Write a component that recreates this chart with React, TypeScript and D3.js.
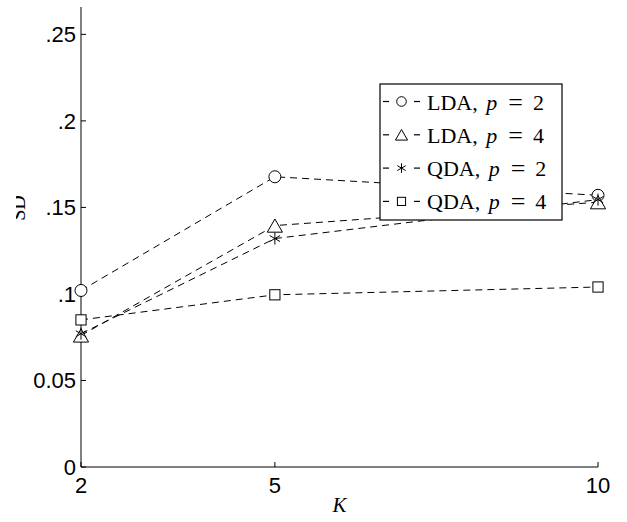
import React, { useEffect, useRef } from 'react';
import * as d3 from 'd3';

// K values on the x axis
const kValues = [2, 5, 10];

// SD per series
const ldaP2 = [0.102, 0.1677, 0.157];
const ldaP4 = [0.076, 0.1395, 0.153];
const qdaP2 = [0.077, 0.132, 0.1545];
const qdaP4 = [0.085, 0.0995, 0.104];

const seriesNames = ['LDA', 'LDA', 'QDA', 'QDA'];
const seriesP = ['2', '4', '2', '4'];
const seriesMarkers = ['circle', 'triangle', 'star', 'square'];

const yTicks = [0, 0.05, 0.1, 0.15, 0.2, 0.25];
const yTickLabels = ['0', '0.05', '.1', '.15', '.2', '.25'];
const xTickLabels = ['2', '5', '10'];

const drawMarker = (g, type, x, y, s) => {
  if (type === 'circle') {
    g.append('circle').attr('cx', x).attr('cy', y).attr('r', s)
      .attr('fill', 'white').attr('stroke', 'black').attr('stroke-width', 1);
  } else if (type === 'square') {
    g.append('rect').attr('x', x - s * 0.85).attr('y', y - s * 0.85)
      .attr('width', s * 1.7).attr('height', s * 1.7)
      .attr('fill', 'white').attr('stroke', 'black').attr('stroke-width', 1);
  } else if (type === 'triangle') {
    const h = s * 1.1;
    g.append('path')
      .attr('d', `M${x},${y - h}L${x + h * 1.15},${y + h}L${x - h * 1.15},${y + h}Z`)
      .attr('fill', 'white').attr('stroke', 'black').attr('stroke-width', 1);
  } else {
    // asterisk
    const r = s;
    [90, 30, -30].forEach(a => {
      const rad = (a * Math.PI) / 180;
      g.append('line')
        .attr('x1', x - r * Math.cos(rad)).attr('y1', y - r * Math.sin(rad))
        .attr('x2', x + r * Math.cos(rad)).attr('y2', y + r * Math.sin(rad))
        .attr('stroke', 'black').attr('stroke-width', 1);
    });
  }
};

const App = () => {
  const svgRef = useRef(null);

  useEffect(() => {
    const width = 627;
    const height = 522;
    const margin = { top: 7, right: 29, bottom: 55, left: 81 };

    const svg = d3.select(svgRef.current);
    svg.selectAll('*').remove();
    svg.attr('width', width).attr('height', height).style('background', 'white');

    const x = d3.scaleLinear()
      .domain([2, 10])
      .range([margin.left, width - margin.right]);

    const y = d3.scaleLinear()
      .domain([0, 0.2658])
      .range([height - margin.bottom, margin.top]);

    const allSeries = [ldaP2, ldaP4, qdaP2, qdaP4];

    // axes
    const axes = svg.append('g');
    axes.append('line')
      .attr('x1', x(2)).attr('x2', x(2))
      .attr('y1', y(0)).attr('y2', margin.top)
      .attr('stroke', 'black');
    axes.append('line')
      .attr('x1', x(2)).attr('x2', x(10))
      .attr('y1', y(0)).attr('y2', y(0))
      .attr('stroke', 'black');

    yTicks.forEach((t, i) => {
      axes.append('line')
        .attr('x1', x(2)).attr('x2', x(2) + 5)
        .attr('y1', y(t)).attr('y2', y(t))
        .attr('stroke', 'black');
      axes.append('text')
        .attr('x', x(2) - 5)
        .attr('y', y(t))
        .attr('dy', '0.35em')
        .attr('text-anchor', 'end')
        .attr('font-family', '"Liberation Sans", Arial, sans-serif')
        .attr('font-size', 22)
        .text(yTickLabels[i]);
    });

    kValues.forEach((k, i) => {
      axes.append('line')
        .attr('x1', x(k)).attr('x2', x(k))
        .attr('y1', y(0)).attr('y2', y(0) - 5)
        .attr('stroke', 'black');
      axes.append('text')
        .attr('x', x(k))
        .attr('y', y(0) + 26)
        .attr('text-anchor', 'middle')
        .attr('font-family', '"Liberation Sans", Arial, sans-serif')
        .attr('font-size', 22)
        .text(xTickLabels[i]);
    });

    // axis titles
    svg.append('text')
      .attr('x', (x(2) + x(10)) / 2)
      .attr('y', 512)
      .attr('text-anchor', 'middle')
      .attr('font-family', '"Liberation Serif", serif')
      .attr('font-style', 'italic')
      .attr('font-size', 21)
      .text('K');

    // y label is cut off at the left in the original figure
    svg.append('clipPath').attr('id', 'ylab-clip')
      .append('rect').attr('x', 16).attr('y', 0).attr('width', 60).attr('height', height);
    svg.append('g')
      .attr('clip-path', 'url(#ylab-clip)')
      .append('text')
      .attr('transform', 'translate(25,208) rotate(-90)')
      .attr('text-anchor', 'middle')
      .attr('font-family', '"Liberation Serif", serif')
      .attr('font-size', 20)
      .text('SD');

    // dashed lines
    const line = d3.line()
      .x((d, i) => x(kValues[i]))
      .y(d => y(d));

    allSeries.forEach(s => {
      svg.append('path')
        .attr('d', line(s))
        .attr('fill', 'none')
        .attr('stroke', 'black')
        .attr('stroke-width', 1)
        .attr('stroke-dasharray', '7,5');
    });

    // markers
    allSeries.forEach((s, si) => {
      const g = svg.append('g');
      s.forEach((v, i) => drawMarker(g, seriesMarkers[si], x(kValues[i]), y(v), 6));
    });

    // legend
    const legend = svg.append('g');
    legend.append('rect')
      .attr('x', 380).attr('y', 84)
      .attr('width', 182).attr('height', 136)
      .attr('fill', 'white').attr('stroke', 'black').attr('stroke-width', 1.2);

    seriesNames.forEach((name, i) => {
      const cy = 101.5 + i * 33.3;
      legend.append('line').attr('x1', 383).attr('x2', 389).attr('y1', cy).attr('y2', cy)
        .attr('stroke', 'black').attr('stroke-width', 1.2);
      legend.append('line').attr('x1', 414).attr('x2', 420).attr('y1', cy).attr('y2', cy)
        .attr('stroke', 'black').attr('stroke-width', 1.2);
      drawMarker(legend, seriesMarkers[i], 401.5, cy, 4.8);

      const t = legend.append('text')
        .attr('x', 427)
        .attr('y', cy + 8)
        .attr('font-family', '"Liberation Serif", serif')
        .attr('font-size', 22);
      t.append('tspan').text(`${name}, `);
      t.append('tspan').attr('dx', 3).attr('font-style', 'italic').text('p');
      t.append('tspan').attr('dx', 11).attr('font-size', 26).attr('dy', 1).text('=');
      t.append('tspan').attr('dx', 10).attr('dy', -1).text(seriesP[i]);
    });
  }, []);

  return (
    <svg ref={svgRef} style={{ position: 'absolute', left: 0, top: 0 }}></svg>
  );
};

export default App;
